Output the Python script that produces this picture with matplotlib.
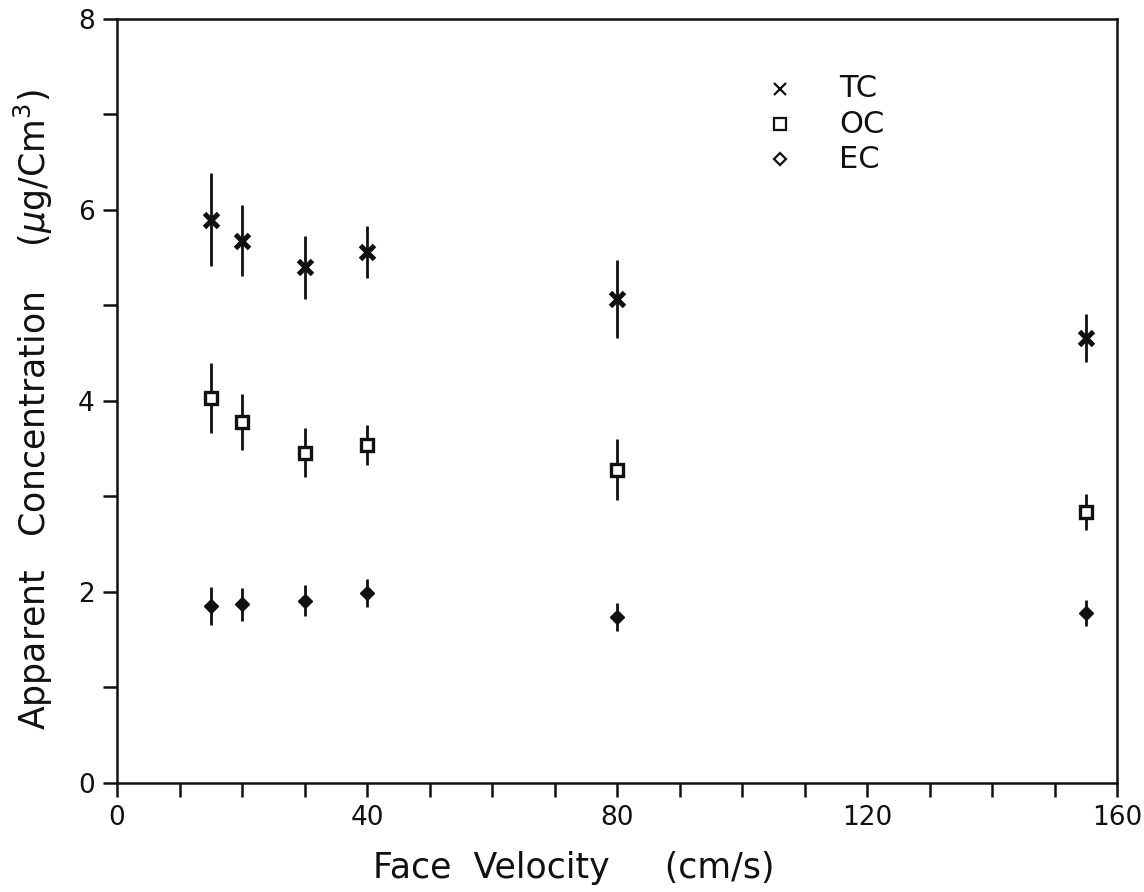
import numpy as np
import matplotlib

matplotlib.use("Agg")
import matplotlib.pyplot as plt

INK = "#111111"

velocity = [15, 20, 30, 40, 80, 155]

tc = [5.90, 5.68, 5.40, 5.56, 5.07, 4.66]
tc_err = [0.49, 0.37, 0.33, 0.27, 0.41, 0.25]

oc = [4.03, 3.78, 3.46, 3.54, 3.28, 2.84]
oc_err = [0.37, 0.29, 0.26, 0.21, 0.32, 0.19]

ec = [1.85, 1.87, 1.91, 1.99, 1.74, 1.78]
ec_err = [0.20, 0.17, 0.16, 0.15, 0.15, 0.14]

x_major = [0, 40, 80, 120, 160]
y_major = [0, 2, 4, 6, 8]

plt.rcParams["font.family"] = ["DejaVu Sans"]

fig = plt.figure(figsize=(11.44, 8.92), dpi=100)
ax = fig.add_axes([0.1023, 0.1222, 0.8741, 0.8565])

# error bars first, then the markers on top
for vals, errs in ((tc, tc_err), (oc, oc_err), (ec, ec_err)):
    ax.errorbar(velocity, vals, yerr=errs, fmt="none", ecolor=INK,
                elinewidth=2.0, capsize=0)

ax.plot(velocity, tc, "x", ms=10, mew=3.6, color=INK, ls="none")
ax.plot(velocity, oc, "s", ms=9, mew=2.4, mfc="white", mec=INK, ls="none")
ax.plot(velocity, ec, "D", ms=7, mew=1.0, mfc=INK, mec=INK, ls="none")

# key in the upper right, plain text without a frame
key = [("x", "TC", dict(ms=9, mew=1.6, color=INK)),
       ("s", "OC", dict(ms=9, mew=1.6, mfc="white", mec=INK)),
       ("D", "EC", dict(ms=6, mew=1.6, mfc="white", mec=INK))]
for i, (m, name, kw) in enumerate(key):
    yk = 7.27 - i * 0.37
    ax.plot([106.0], [yk], m, ls="none", clip_on=False, **kw)
    ax.text(115.5, yk, name, fontsize=22, color=INK, va="center", ha="left")

ax.set_xlim(0, 160)
ax.set_ylim(0, 8)
ax.set_xticks(x_major)
ax.set_xticks(np.arange(0, 161, 10), minor=True)
ax.set_yticks(y_major)
ax.set_yticks(np.arange(0, 9, 1), minor=True)

ax.tick_params(which="both", direction="out", length=10, width=1.8,
               colors=INK, labelsize=19, pad=6)
ax.tick_params(axis="x", pad=6)
for side in ax.spines:
    ax.spines[side].set_linewidth(1.8)
    ax.spines[side].set_color(INK)

ax.set_xlabel("Face  Velocity     (cm/s)", fontsize=25, color=INK)
ax.xaxis.set_label_coords(0.457, -0.089)
ax.set_ylabel(r"Apparent   Concentration    ($\mu$g/Cm$^3$)", fontsize=25,
              color=INK)
ax.yaxis.set_label_coords(-0.062, 0.488)

fig.savefig("out.png", dpi=100)
